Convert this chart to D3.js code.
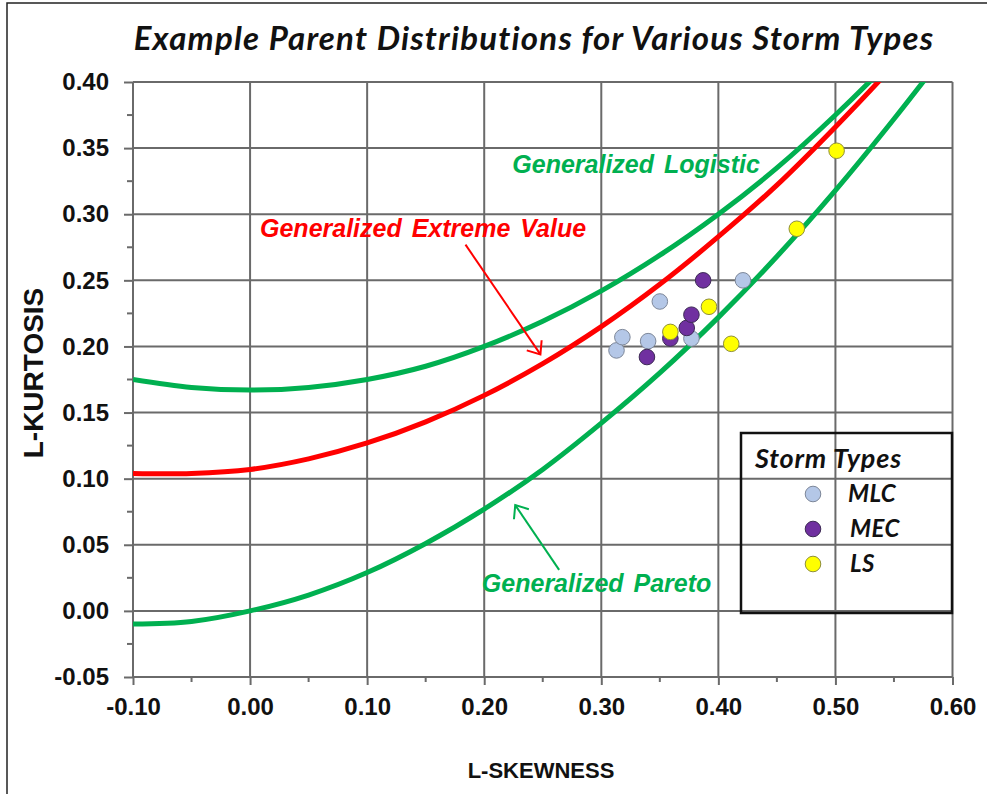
<!DOCTYPE html>
<html>
<head>
<meta charset="utf-8">
<script src="https://cdn.jsdelivr.net/npm/d3@7"></script>
<style>
	body { margin: 0; background: #fff; }
	svg { display: block; }
</style>
</head>
<body>
<svg id="chart" width="987" height="794"></svg>
<script>
// L-moment ratio curves
const tau3Grid = [-0.10, -0.05, 0.00, 0.05, 0.10, 0.15, 0.20, 0.25, 0.30, 0.35, 0.40, 0.45, 0.50, 0.55, 0.60];
const gloTau4 = [0.175, 0.169, 0.167, 0.169, 0.175, 0.185, 0.200, 0.219, 0.242, 0.269, 0.300, 0.335, 0.375, 0.419, 0.467];
const gevTau4 = [0.104, 0.104, 0.107, 0.115, 0.127, 0.143, 0.163, 0.187, 0.215, 0.247, 0.283, 0.322, 0.366, 0.413, 0.464];
const gpaTau4 = [-0.010, -0.008, 0.000, 0.012, 0.029, 0.051, 0.077, 0.107, 0.142, 0.180, 0.222, 0.268, 0.318, 0.372, 0.429];

// storm samples
const mlcSkew = [0.313, 0.318, 0.340, 0.350, 0.377, 0.421];
const mlcKurt = [0.197, 0.207, 0.204, 0.234, 0.206, 0.250];
const mecSkew = [0.339, 0.359, 0.373, 0.377, 0.387];
const mecKurt = [0.192, 0.206, 0.214, 0.224, 0.250];
const lsSkew = [0.359, 0.392, 0.411, 0.467, 0.501];
const lsKurt = [0.211, 0.230, 0.202, 0.289, 0.348];

const stormTypes = ["MLC", "MEC", "LS"];
const xTicks = [-0.10, 0.00, 0.10, 0.20, 0.30, 0.40, 0.50, 0.60];
const yTicks = [-0.05, 0.00, 0.05, 0.10, 0.15, 0.20, 0.25, 0.30, 0.35, 0.40];

function drawChart(holder){
	let svg = d3.select(holder);
	let margin = {"left": 133, "top": 82, "right": 952.5, "bottom": 677};
	let axisFont = "'Liberation Sans', Arial, sans-serif";
	let gridColour = "#6a6a6a";

	let x = d3.scaleLinear().domain([-0.10, 0.60]).range([margin.left, margin.right]);
	let y = d3.scaleLinear().domain([-0.05, 0.40]).range([margin.bottom, margin.top]);

	// outer frame
	svg.append("rect")
		.attr("x", 7).attr("y", 3)
		.attr("width", 1100).attr("height", 1100)
		.attr("fill", "none")
		.attr("stroke", "#222")
		.attr("stroke-width", 1.5);

	svg.append("text")
		.attr("x", 534).attr("y", 50)
		.attr("text-anchor", "middle")
		.style("font-family", "Lato, sans-serif")
		.style("font-weight", "bold")
		.style("font-style", "italic")
		.style("font-size", "33px")
		.style("letter-spacing", "1.2px")
		.attr("fill", "#111")
		.text("Example Parent Distributions for Various Storm Types");

	// grid
	let grid = svg.append("g").attr("class", "grid");
	grid.selectAll(".vgrid")
		.data(xTicks)
		.enter().append("line")
			.attr("class", "vgrid")
			.attr("x1", d => x(d)).attr("x2", d => x(d))
			.attr("y1", margin.top).attr("y2", margin.bottom)
			.attr("stroke", gridColour)
			.attr("stroke-width", 2);
	grid.selectAll(".hgrid")
		.data(yTicks)
		.enter().append("line")
			.attr("class", "hgrid")
			.attr("x1", margin.left).attr("x2", margin.right)
			.attr("y1", d => y(d)).attr("y2", d => y(d))
			.attr("stroke", gridColour)
			.attr("stroke-width", 2);

	// axes
	let xAxis = d3.axisBottom(x)
		.tickValues(xTicks)
		.tickSize(8)
		.tickPadding(13)
		.tickFormat(d => d.toFixed(2));
	let xg = svg.append("g").attr("transform", `translate(0,${margin.bottom})`).call(xAxis);
	let yAxis = d3.axisLeft(y)
		.tickValues(yTicks)
		.tickSize(9)
		.tickPadding(15)
		.tickFormat(d => d.toFixed(2));
	let yg = svg.append("g").attr("transform", `translate(${margin.left},0)`).call(yAxis);
	[xg, yg].forEach(g => {
		g.select(".domain").remove();
		g.selectAll(".tick line").attr("stroke", gridColour).attr("stroke-width", 2);
		g.selectAll(".tick text")
			.style("font-family", axisFont)
			.style("font-weight", "bold")
			.style("font-size", "24px")
			.attr("fill", "#111");
	});

	// minor ticks
	let xMinor = d3.range(-0.05, 0.6, 0.1);
	svg.selectAll(".xminor")
		.data(xMinor)
		.enter().append("line")
			.attr("x1", d => x(d)).attr("x2", d => x(d))
			.attr("y1", margin.bottom).attr("y2", margin.bottom + 5)
			.attr("stroke", gridColour)
			.attr("stroke-width", 2);
	let yMinor = d3.range(-0.025, 0.4, 0.05);
	svg.selectAll(".yminor")
		.data(yMinor)
		.enter().append("line")
			.attr("x1", margin.left - 6).attr("x2", margin.left)
			.attr("y1", d => y(d)).attr("y2", d => y(d))
			.attr("stroke", gridColour)
			.attr("stroke-width", 2);

	svg.append("text")
		.attr("x", 541).attr("y", 778)
		.attr("text-anchor", "middle")
		.style("font-family", axisFont)
		.style("font-weight", "bold")
		.style("font-size", "22px")
		.attr("fill", "#111")
		.text("L-SKEWNESS");
	svg.append("text")
		.attr("transform", "translate(43,373) rotate(-90)")
		.attr("text-anchor", "middle")
		.style("font-family", axisFont)
		.style("font-weight", "bold")
		.style("font-size", "28px")
		.attr("fill", "#111")
		.text("L-KURTOSIS");

	// curves
	svg.append("clipPath").attr("id", "plotClip")
		.append("rect")
			.attr("x", margin.left).attr("y", margin.top)
			.attr("width", margin.right - margin.left)
			.attr("height", margin.bottom - margin.top);

	let line = d3.line()
		.x(d => x(d[0]))
		.y(d => y(d[1]))
		.curve(d3.curveCatmullRom);

	let curves = [
		{"name": "GPA", "tau4": gpaTau4, "colour": "#00b050"},
		{"name": "GLO", "tau4": gloTau4, "colour": "#00b050"},
		{"name": "GEV", "tau4": gevTau4, "colour": "#ff0000"}
	];
	svg.append("g")
		.attr("clip-path", "url(#plotClip)")
		.selectAll("path")
		.data(curves)
		.enter().append("path")
			.attr("d", d => line(tau3Grid.map((t, i) => [t, d.tau4[i]])))
			.attr("fill", "none")
			.attr("stroke", d => d.colour)
			.attr("stroke-width", 5);

	// arrows and curve labels
	let defs = svg.append("defs");
	["red", "green"].forEach((k, i) => {
		defs.append("marker")
			.attr("id", "arrow-" + k)
			.attr("markerUnits", "userSpaceOnUse")
			.attr("viewBox", "-14 -12 16 24")
			.attr("markerWidth", 16).attr("markerHeight", 24)
			.attr("refX", 0).attr("refY", 0)
			.attr("orient", "auto")
			.append("path")
				.attr("d", "M-11,-9L0,0L-11,9")
				.attr("fill", "none")
				.attr("stroke", i === 0 ? "#ff0000" : "#00b050")
				.attr("stroke-width", 2);
	});

	svg.append("line")
		.attr("x1", x(0.184)).attr("y1", y(0.277))
		.attr("x2", x(0.248)).attr("y2", y(0.194))
		.attr("stroke", "#ff0000")
		.attr("stroke-width", 2)
		.attr("marker-end", "url(#arrow-red)");
	svg.append("line")
		.attr("x1", x(0.264)).attr("y1", y(0.031))
		.attr("x2", x(0.2265)).attr("y2", y(0.080))
		.attr("stroke", "#00b050")
		.attr("stroke-width", 2)
		.attr("marker-end", "url(#arrow-green)");

	let labels = [
		{"text": "Generalized Logistic", "x": 0.224, "y": 0.331, "colour": "#00b050"},
		{"text": "Generalized Extreme Value", "x": 0.0085, "y": 0.283, "colour": "#ff0000"},
		{"text": "Generalized Pareto", "x": 0.198, "y": 0.0143, "colour": "#00b050"}
	];
	svg.selectAll(".curveLabel")
		.data(labels)
		.enter().append("text")
			.attr("class", "curveLabel")
			.attr("x", d => x(d.x))
			.attr("y", d => y(d.y))
			.style("font-family", axisFont)
			.style("font-weight", "bold")
			.style("font-style", "italic")
			.style("font-size", "25px")
			.style("word-spacing", "3px")
			.attr("fill", d => d.colour)
			.text(d => d.text);

	// points
	let colours = d3.scaleOrdinal()
		.domain(stormTypes)
		.range(["#b4c7e7", "#7030a0", "#ffff00"]);
	let strokes = d3.scaleOrdinal()
		.domain(stormTypes)
		.range(["#7d8799", "#3d2a55", "#8f8f3a"]);
	let series = [
		{"type": "MLC", "skew": mlcSkew, "kurt": mlcKurt},
		{"type": "MEC", "skew": mecSkew, "kurt": mecKurt},
		{"type": "LS", "skew": lsSkew, "kurt": lsKurt}
	];
	series.forEach(s => {
		svg.append("g").selectAll("circle")
			.data(s.skew.map((v, i) => [v, s.kurt[i]]))
			.enter().append("circle")
				.attr("cx", d => x(d[0]))
				.attr("cy", d => y(d[1]))
				.attr("r", 7.8)
				.attr("fill", colours(s.type))
				.attr("stroke", strokes(s.type))
				.attr("stroke-width", 1);
	});

	// legend
	let legend = svg.append("g").attr("class", "legend").attr("transform", "translate(741,433)");
	legend.append("rect")
		.attr("width", 211).attr("height", 180)
		.attr("fill", "none")
		.attr("stroke", "#111")
		.attr("stroke-width", 2.5);
	legend.append("text")
		.attr("x", 14).attr("y", 35)
		.style("font-family", "Lato, sans-serif")
		.style("font-weight", "bold")
		.style("font-style", "italic")
		.style("font-size", "27px")
		.style("letter-spacing", "0.8px")
		.attr("fill", "#111")
		.text("Storm Types");
	let items = legend.selectAll(".item")
		.data(stormTypes)
		.enter().append("g")
			.attr("class", "item")
			.attr("transform", (d, i) => `translate(72,${61 + i * 35})`);
	items.append("circle")
		.attr("r", 7.8)
		.attr("fill", d => colours(d))
		.attr("stroke", d => strokes(d))
		.attr("stroke-width", 1);
	items.append("text")
		.attr("x", (d, i) => i === 0 ? 35 : 37)
		.attr("y", 8)
		.style("font-family", "Lato, sans-serif")
		.style("font-weight", "bold")
		.style("font-style", "italic")
		.style("font-size", "24px")
		.style("letter-spacing", "0.4px")
		.attr("fill", "#111")
		.text(d => d);
}

drawChart("#chart");
</script>
</body>
</html>
